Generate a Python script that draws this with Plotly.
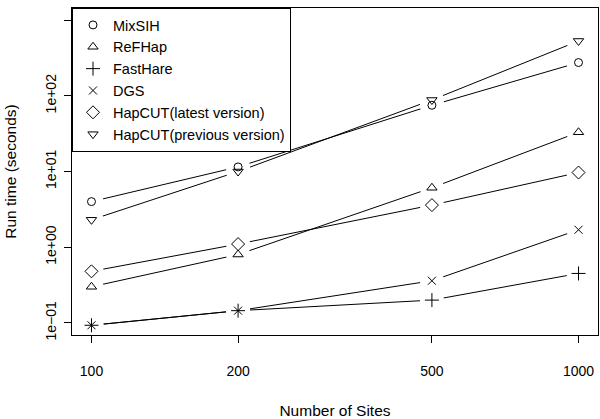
import plotly.graph_objs as go

# run time of each method vs number of sites (log-log)
sites = [100, 200, 500, 1000]
mixsih = [4.0, 11.5, 75, 275]
refhap = [0.30, 0.80, 6.1, 33]
fasthare = [0.093, 0.145, 0.20, 0.45]
dgs = [0.093, 0.145, 0.36, 1.7]
hapcut_latest = [0.48, 1.1, 3.6, 9.7]
hapcut_prev = [2.3, 10.0, 88, 530]

y_ticks = [0.1, 1, 10, 100, 1000]
y_tick_text = ["1e\u221201", "1e+00", "1e+01", "1e+02", "1e+03"]

series = [
    ("MixSIH", mixsih, "circle-open", 8),
    ("ReFHap", refhap, "triangle-up-open", 9),
    ("FastHare", fasthare, "cross-thin-open", 10),
    ("DGS", dgs, "x-thin-open", 8),
    ("HapCUT(latest version)", hapcut_latest, "diamond-open", 10),
    ("HapCUT(previous version)", hapcut_prev, "triangle-down-open", 9),
]

x_range = [1.96, 3.04]
y_range = [-1.16, 3.16]

fig = go.Figure()

# lines on the base axes
for name, vals, sym, sz in series:
    fig.add_trace(go.Scatter(x=sites, y=vals, mode='lines',
                             line=dict(color='black', width=1),
                             showlegend=False, hoverinfo='skip'))

# white blobs on an overlaid copy of the axes (drawn above the lines)
# -> the R type="b" gaps around points
for name, vals, sym, sz in series:
    fig.add_trace(go.Scatter(x=sites, y=vals, mode='markers',
                             xaxis='x2', yaxis='y2',
                             marker=dict(symbol='circle', size=24, color='white',
                                         line=dict(width=0)),
                             showlegend=False, hoverinfo='skip'))

# the point symbols on top
for name, vals, sym, sz in series:
    fig.add_trace(go.Scatter(x=sites, y=vals, mode='markers', name=name,
                             xaxis='x2', yaxis='y2',
                             marker=dict(symbol=sym, size=sz, color='black',
                                         line=dict(color='black', width=1))))

font = dict(family="Liberation Sans, Arial, sans-serif", size=14, color='black')

fig.update_layout(
    width=600, height=419,
    margin=dict(l=72, r=1, t=8, b=72),
    paper_bgcolor='white', plot_bgcolor='white',
    font=font,
    legend=dict(x=0, y=1, xanchor='left', yanchor='top',
                bordercolor='black', borderwidth=1, bgcolor='white',
                font=dict(size=14.5), itemwidth=30, tracegroupgap=0),
    xaxis=dict(type='log', range=x_range,
               tickvals=sites, ticktext=[str(s) for s in sites],
               showgrid=False, zeroline=False,
               showline=True, mirror=True, linecolor='black', linewidth=1,
               ticks='outside', ticklen=7, tickcolor='black',
               ticklabelstandoff=16,
               title=dict(text="Number of Sites", standoff=28, font=dict(size=15.5))),
    yaxis=dict(type='log', range=y_range,
               tickvals=y_ticks, ticktext=y_tick_text, tickangle=-90,
               showgrid=False, zeroline=False,
               showline=True, mirror=True, linecolor='black', linewidth=1,
               ticks='outside', ticklen=7, tickcolor='black',
               ticklabelstandoff=2,
               title=dict(text="Run time (seconds)", standoff=22, font=dict(size=15.5))),
    xaxis2=dict(type='log', range=x_range, overlaying='x', visible=False),
    yaxis2=dict(type='log', range=y_range, overlaying='y', visible=False),
)

# page body has a default 8px margin; drop it so the figure sits at 0,0
fig.write_html("out.html", config={'displayModeBar': False},
               post_script="document.body.style.margin='0';")
